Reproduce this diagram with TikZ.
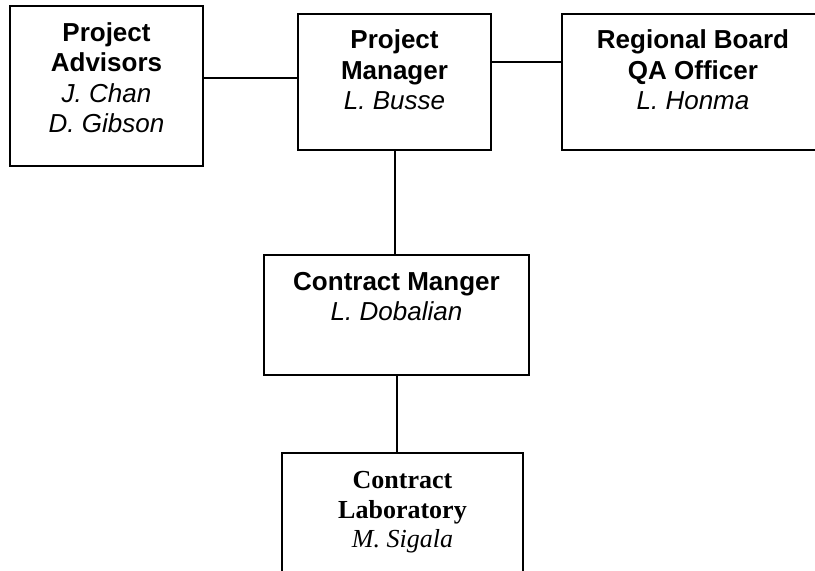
\documentclass[tikz,border=0pt]{standalone}
\usepackage{fontspec}
\setmainfont{Liberation Sans}
\newfontfamily\labFont{Liberation Serif}
\begin{document}
\begin{tikzpicture}[x=0.5pt, y=-0.5pt, line width=1pt]
        \tikzset{
           orgBox/.style={
                        rectangle,
                        draw=black,
                        fill=none,
                        inner sep=0pt
                       },
           boxText/.style={
                        align=center,
                        inner sep=0pt,
                        anchor=base,
                        text=black,
                        font=\fontsize{13}{15.25}\selectfont
                       },
                 };
        \useasboundingbox (0,0) rectangle (815,571);
    %--------------------
        \node[orgBox, minimum width=96.5pt, minimum height=80pt]  (advisors) at (106.5,86)  {};
        \node[orgBox, minimum width=96.5pt, minimum height=68pt]  (pmBox)    at (394.5,82)  {};
        \node[orgBox, minimum width=128pt,  minimum height=68pt]  (qaBox)    at (690,82)    {};
        \node[orgBox, minimum width=132.5pt, minimum height=60pt] (cmBox)    at (396.5,315) {};
        \node[orgBox, minimum width=120.5pt, minimum height=63.5pt] (labBox) at (402.5,516.5) {};

        \node[boxText] (advisorsText) at (106.5,133) {\textbf{Project}\\\textbf{Advisors}\\\textit{J. Chan}\\\textit{D. Gibson}};
        \node[boxText] (pmText)       at (394.5,110) {\textbf{Project}\\\textbf{Manager}\\\textit{L. Busse}};
        \node[boxText] (qaText)       at (693,110)   {\textbf{Regional Board}\\\textbf{QA Officer}\\\textit{L. Honma}};
        \node[boxText] (cmText)       at (396.5,321) {\textbf{Contract Manger}\\\textit{L. Dobalian}};
        \node[boxText, font=\labFont\fontsize{13}{14.75}\selectfont] (labText) at (402.5,548) {\textbf{Contract}\\\textbf{Laboratory}\\\textit{M. Sigala}};
    %--------------------
        \path ([yshift=4pt]advisors.east) edge ([yshift=2pt]pmBox.west)
              ([yshift=10pt]pmBox.east)   edge ([yshift=10pt]qaBox.west)

              (pmBox.south)               edge (pmBox.south |- cmBox.north)
              (cmBox.south)               edge (cmBox.south |- labBox.north);
    \end{tikzpicture}
\end{document}
